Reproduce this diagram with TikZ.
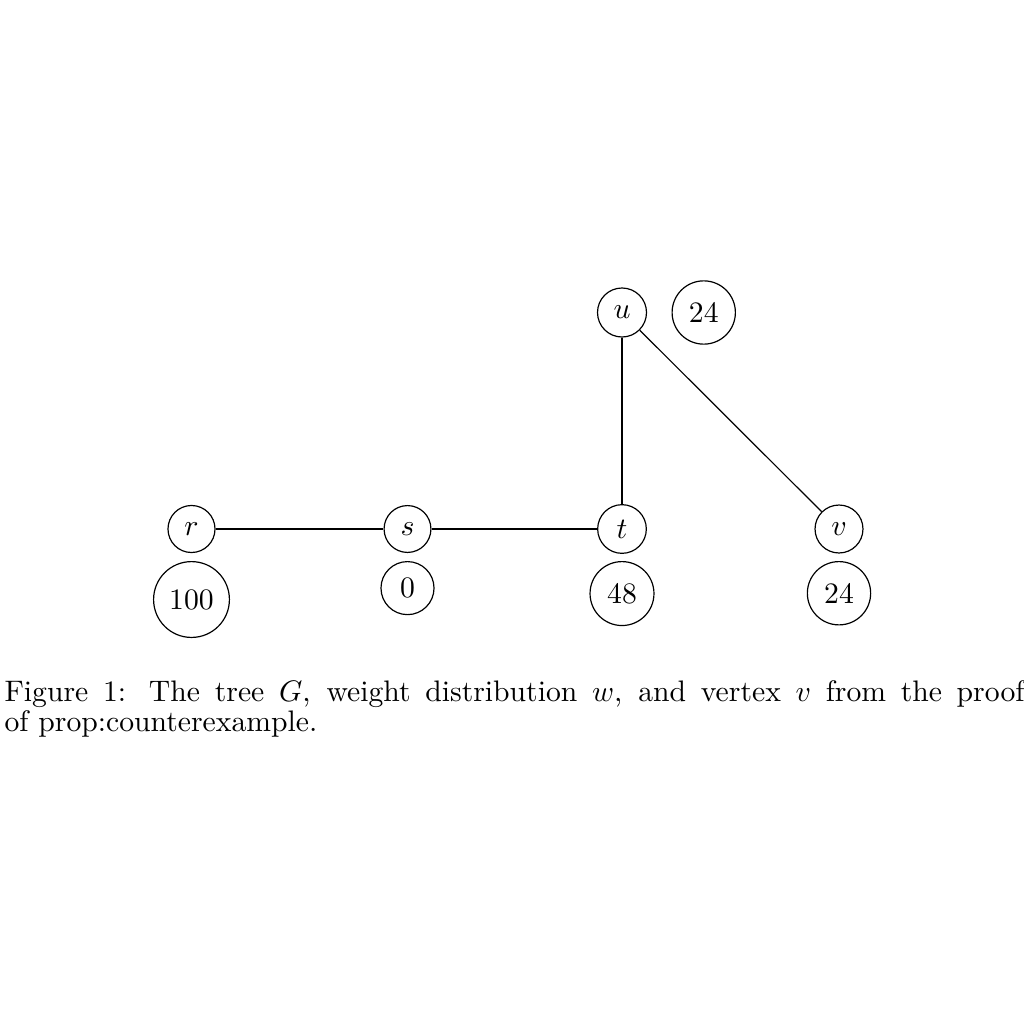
\documentclass[tikz,border=0pt]{standalone}
\usetikzlibrary{positioning}
\tikzset{
  vtx/.style={circle,draw,inner sep=3.33pt},
  wt/.style={circle,draw,inner sep=3.33pt},
  edge/.style={draw,line width=0.4pt},
  captxt/.style={anchor=base west,inner sep=0pt,text width=343.6pt,align=justify,font={\fontsize{10}{10.4}\selectfont}}
}
\begin{document}
\begin{tikzpicture}[x=0.33691pt,y=-0.33691pt]
\useasboundingbox (0,0) rectangle (1024,1024);
\node[vtx] (r) at (191.5,529) {$r$};
\node[vtx] (s) at (407.5,529) {$s$};
\node[vtx] (t) at (622,529) {$t$};
\node[vtx] (v) at (839,529) {$v$};
\node[vtx] (u) at (622,312.5) {$u$};
\node[wt,anchor=north] (wr) at (191.5,561) {100};
\node[wt,anchor=north] (ws) at (407.5,561) {0};
\node[wt,anchor=north] (wt) at (622,561) {48};
\node[wt,anchor=north] (wv) at (839,561) {24};
\node[wt,anchor=west] (wu) at (671.5,312.5) {24};
\draw[edge] (r) -- (s);
\draw[edge] (s) -- (t);
\draw[edge] (t) -- (u);
\draw[edge] (u) -- (v);
\node[captxt] (cap) at (4,701)
  {Figure 1: The tree $G$, weight distribution $w$, and vertex $v$ from the proof\linebreak of prop:counterexample.\par};
\end{tikzpicture}
\end{document}
